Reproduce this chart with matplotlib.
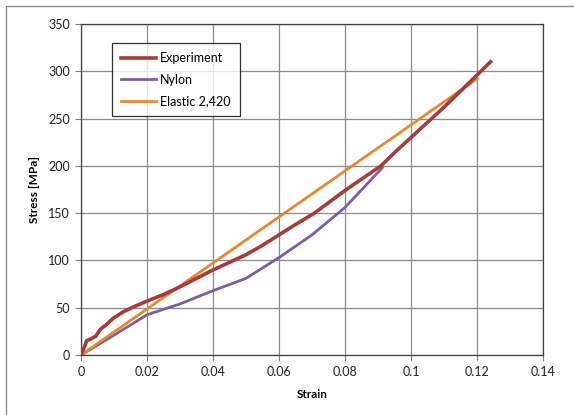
import matplotlib
matplotlib.use("Agg")
import matplotlib.pyplot as plt
from matplotlib.patches import Rectangle

# values
exp_strain = [0.0, 0.001, 0.0017, 0.003, 0.0045, 0.0058, 0.008, 0.0098, 0.013, 0.016,
              0.02, 0.025, 0.03, 0.035, 0.04, 0.045, 0.05, 0.055, 0.06, 0.065,
              0.0707, 0.075, 0.08, 0.085, 0.0909, 0.095, 0.1, 0.105, 0.11, 0.115,
              0.12, 0.1241]
exp_stress = [1, 8, 15, 17, 20, 27, 33, 39, 46, 51,
              57, 64, 72, 81, 90, 98, 106, 116, 127, 138,
              150, 161, 174, 186, 200, 214, 230, 246, 262, 279,
              296, 310]

nylon_strain = [0.0, 0.01, 0.02, 0.03, 0.04, 0.05, 0.06, 0.07, 0.08, 0.0913]
nylon_stress = [0, 21, 42.5, 54, 68, 81, 103, 127, 156, 198]

elastic_strain = [0.0, 0.12]
elastic_stress = [0, 292]

col_exp = "#A83A3A"
col_nylon = "#7A5EA6"
col_elastic = "#E8872F"

plt.rcParams['font.family'] = ['Lato', 'DejaVu Sans']

fig = plt.figure(figsize=(5.74, 4.15), dpi=100)
ax = fig.add_axes([81/574, 1-355/415, (543-81)/574, (355-24)/415])

ax.plot(exp_strain, exp_stress, color=col_exp, lw=2.6, label="Experiment", zorder=3)
ax.plot(nylon_strain, nylon_stress, color=col_nylon, lw=2.0, label="Nylon", zorder=2)
ax.plot(elastic_strain, elastic_stress, color=col_elastic, lw=2.0, label="Elastic 2,420", zorder=2)

ax.set_xlim(0, 0.14)
ax.set_ylim(0, 350)
ax.set_xticks([0, 0.02, 0.04, 0.06, 0.08, 0.1, 0.12, 0.14])
ax.set_xticklabels(["0", "0.02", "0.04", "0.06", "0.08", "0.1", "0.12", "0.14"])
ax.set_yticks(range(0, 351, 50))
ax.grid(True, color="#8C8C8C", lw=0.9)
ax.set_axisbelow(True)
for s in ax.spines.values():
    s.set_color("#404040")
    s.set_linewidth(0.9)
ax.tick_params(direction="out", length=4, width=0.8, color="#808080",
               labelsize=9, labelcolor="#222222", pad=4)
ax.set_xlabel("Strain", fontsize=8.5, fontweight="bold", labelpad=8)
ax.set_ylabel("Stress [MPa]", fontsize=8.5, fontweight="bold", labelpad=6)

leg = ax.legend(loc="upper left", bbox_to_anchor=((112-81)/462, (355-43)/331),
                fontsize=9, frameon=True, fancybox=False, handlelength=2.8,
                handletextpad=0.3, labelspacing=0.75, borderpad=0.75,
                borderaxespad=0)
leg.get_frame().set_edgecolor("#000000")
leg.get_frame().set_linewidth(0.9)

# chart area border
fig.patches.append(Rectangle((6/574, -0.01), 1.0, 1 - 6/415 + 0.01,
                             transform=fig.transFigure, fill=False,
                             edgecolor="#8C8C8C", lw=1.0))

fig.savefig("out.png", dpi=100)
